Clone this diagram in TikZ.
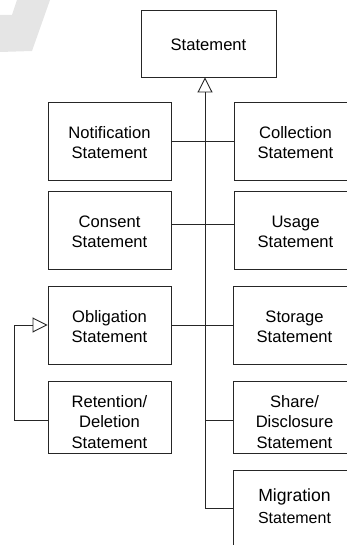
\documentclass[tikz,border=0pt]{standalone}
\usepackage{fontspec}
\setmainfont{Liberation Sans}
\usetikzlibrary{arrows.meta}
\newcommand\boxlines[1]{\begin{tabular}{@{}c@{}}#1\end{tabular}}
\begin{document}
\begin{tikzpicture}[x=1pt,y=-1pt,
  box/.style={draw=black!85, line width=0.9pt, rectangle,
    inner sep=0pt, text height=15pt, text depth=0pt,
    font=\fontsize{16.6}{20.4}\selectfont},
  lbox/.style={box, minimum width=123pt, minimum height=78pt},
  tbox/.style={lbox, minimum height=72pt, text height=22pt},
  conn/.style={draw=black!85, line width=0.9pt},
  gen/.style={conn, -{Triangle[open, length=15pt, width=15pt, line width=0.9pt]}}]
\useasboundingbox (0,0) rectangle (347,545);
\begin{scope}
\clip (0,0) rectangle (347,545);
% faint watermark
\fill[black!10] (0,15) -- (12,15) -- (17,0) -- (50,0) -- (32,51) -- (0,52) -- cycle;

\node[box, minimum width=135pt, minimum height=67pt, text height=14pt] (st) at (208.5,43.5) {\boxlines{Statement}};

\node[lbox] (notif) at (109.5,141) {\boxlines{Notification\\Statement}};
\node[lbox] (coll) at (295.5,141) {\boxlines{Collection\\Statement}};
\node[lbox] (cons) at (109.5,230) {\boxlines{Consent\\Statement}};
\node[lbox] (usage) at (295.5,230) {\boxlines{Usage\\Statement}};
\node[lbox] (oblig) at (109.5,325) {\boxlines{Obligation\\Statement}};
\node[lbox] (stor) at (294.5,325) {\boxlines{Storage\\Statement}};
\node[tbox] (ret) at (109.5,417) {\boxlines{Retention/\\Deletion\\Statement}};
\node[tbox] (share) at (294.5,417) {\boxlines{Share/\\Disclosure\\Statement}};
\node[lbox, minimum height=100pt, text height=0pt, text depth=14pt] (mig) at (294.5,520)
  {\boxlines{{\fontsize{17.6}{20}\selectfont Migration}\\[2pt]{\fontsize{16}{20}\selectfont Statement}}};

\coordinate (tb) at (205,508);
\coordinate (j4) at (205,420);
\coordinate (lb) at (14,420);

\draw[gen] (tb) -- (tb |- st.south);
\draw[conn] (notif.east) -- (coll.west);
\draw[conn] ([yshift=6pt]cons.east) -- ([yshift=6pt]usage.west);
\draw[conn] (oblig.east) -- (stor.west);
\draw[conn] (j4) -- (j4 -| share.west);
\draw[conn] (tb) -- (tb -| mig.west);
\draw[gen] (ret.west |- j4) -- (lb) |- (oblig.west);
\end{scope}
\end{tikzpicture}
\end{document}
